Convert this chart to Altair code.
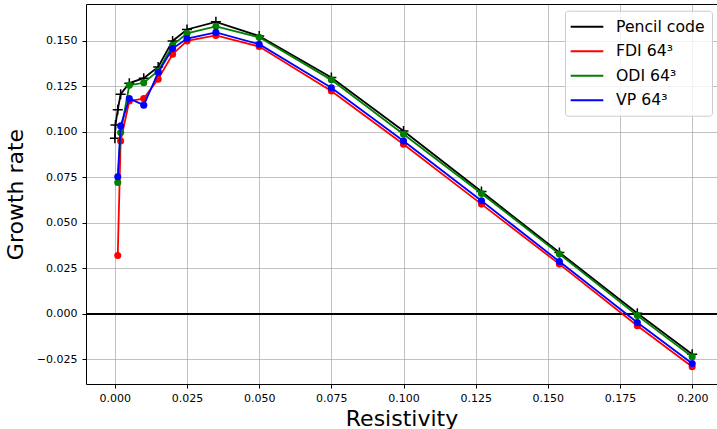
import altair as alt
import pandas as pd

# ---- data ----
pencil_x = [0.0, 0.0002, 0.001, 0.002, 0.005, 0.01, 0.015, 0.02, 0.025, 0.035,
            0.05, 0.075, 0.1, 0.127, 0.154, 0.181, 0.2]
pencil_y = [0.0965, 0.1038, 0.1121, 0.1207, 0.1268, 0.1295, 0.1357, 0.150, 0.1563,
            0.1605, 0.1527, 0.1299, 0.1005, 0.0672, 0.0337, 0.0003, -0.0222]

sim_x = [0.001, 0.002, 0.005, 0.01, 0.015, 0.02, 0.025, 0.035, 0.05, 0.075,
         0.1, 0.127, 0.154, 0.181, 0.2]
fdi_y = [0.032, 0.095, 0.117, 0.1183, 0.129, 0.1427, 0.150, 0.153, 0.1469,
         0.1225, 0.0932, 0.0603, 0.0273, -0.0066, -0.0291]
odi_y = [0.0722, 0.0996, 0.1256, 0.127, 0.1335, 0.1476, 0.1542, 0.158, 0.152,
         0.1286, 0.0987, 0.0661, 0.0328, -0.001, -0.0236]
vp_y = [0.0753, 0.1033, 0.1183, 0.1147, 0.1326, 0.1458, 0.1513, 0.1547, 0.1482,
        0.1243, 0.095, 0.0621, 0.0287, -0.0048, -0.0273]

series_names = ["Pencil code", "FDI 64³", "ODI 64³", "VP 64³"]
series_colors = ["#000000", "#ff0000", "#008000", "#0000ff"]

x_ticks = [0.0, 0.025, 0.05, 0.075, 0.1, 0.125, 0.15, 0.175, 0.2]
y_ticks = [-0.025, 0.0, 0.025, 0.05, 0.075, 0.1, 0.125, 0.15]

# ---- table ----
rows = []
for name, xs_, ys_ in zip(series_names,
                          [pencil_x, sim_x, sim_x, sim_x],
                          [pencil_y, fdi_y, odi_y, vp_y]):
    for xv, yv in zip(xs_, ys_):
        rows.append({"series": name, "x": xv, "y": yv})
df = pd.DataFrame(rows)

FONT = "DejaVu Sans"
xscale = alt.Scale(domain=[-0.01, 0.2086], nice=False, zero=False)
yscale = alt.Scale(domain=[-0.0386, 0.1703], nice=False, zero=False)

y_axis = alt.Axis(values=y_ticks, format=".3f", title="Growth rate",
                  grid=True, tickSize=4, labelPadding=5, titlePadding=9)
y_enc = alt.Y("y:Q", scale=yscale, axis=y_axis)
bottom_axis = alt.Axis(values=x_ticks, format=".3f", title="Resistivity", orient="bottom",
                       grid=True, tickSize=4, labelPadding=4.5, titlePadding=4.5)
top_axis = alt.Axis(orient="top", labels=False, ticks=False, grid=False, title="")

legend = alt.Legend(orient="none", legendX=479, legendY=6.7, title=None,
                    symbolType="M-2.04,0L2.04,0", symbolSize=256, symbolStrokeWidth=2,
                    labelFontSize=15.7, labelFont=FONT, labelColor="black", labelLimit=300,
                    rowPadding=7.5, padding=7, symbolOffset=6, labelOffset=20,
                    strokeColor="#cccccc", fillColor="rgba(255,255,255,0.8)", cornerRadius=3)
color_enc = alt.Color("series:N", scale=alt.Scale(domain=series_names, range=series_colors),
                      legend=legend)

base = alt.Chart(df)

zero_rule = base.mark_rule(color="black", strokeWidth=1.5).encode(
    y=alt.Y(datum=0, type="quantitative", scale=yscale, axis=y_axis)
)

layers = [zero_rule]
plus_path = "M-1,0L1,0M0,-1L0,1"
for i, (name, col) in enumerate(zip(series_names, series_colors)):
    if i == 0:
        xax = top_axis
    elif i == 1:
        xax = bottom_axis
    else:
        xax = None
    x_enc = alt.X("x:Q", scale=xscale, axis=xax)
    line = base.transform_filter(alt.datum.series == name).mark_line(
        strokeWidth=1.8).encode(x=x_enc, y=y_enc, color=color_enc)
    if i == 0:
        pts = base.transform_filter(alt.datum.series == name).mark_point(
            shape=plus_path, filled=False, size=100, strokeWidth=1.5, color=col,
            opacity=1).encode(x=alt.X("x:Q", scale=xscale, axis=None), y=y_enc)
    else:
        pts = base.transform_filter(alt.datum.series == name).mark_point(
            shape="circle", filled=True, size=50, color=col, opacity=1).encode(
            x=alt.X("x:Q", scale=xscale, axis=None), y=y_enc)
    layers += [line, pts]

chart = alt.layer(*layers).resolve_axis(x="independent").properties(
    width=631, height=380,
    padding={"left": 86, "top": 4, "right": 0, "bottom": 45},
    autosize=alt.AutoSizeParams(type="none"),
).configure_view(stroke="transparent").configure_axis(
    labelFont=FONT, titleFont=FONT, labelFontSize=11, titleFontSize=22,
    titleFontWeight="normal", labelColor="black", titleColor="black",
    domainColor="black", tickColor="black", gridColor="#b0b0b0", gridWidth=0.8,
    domainWidth=1,
)

chart.save("out.html", embed_options={"renderer": "svg", "actions": False})
